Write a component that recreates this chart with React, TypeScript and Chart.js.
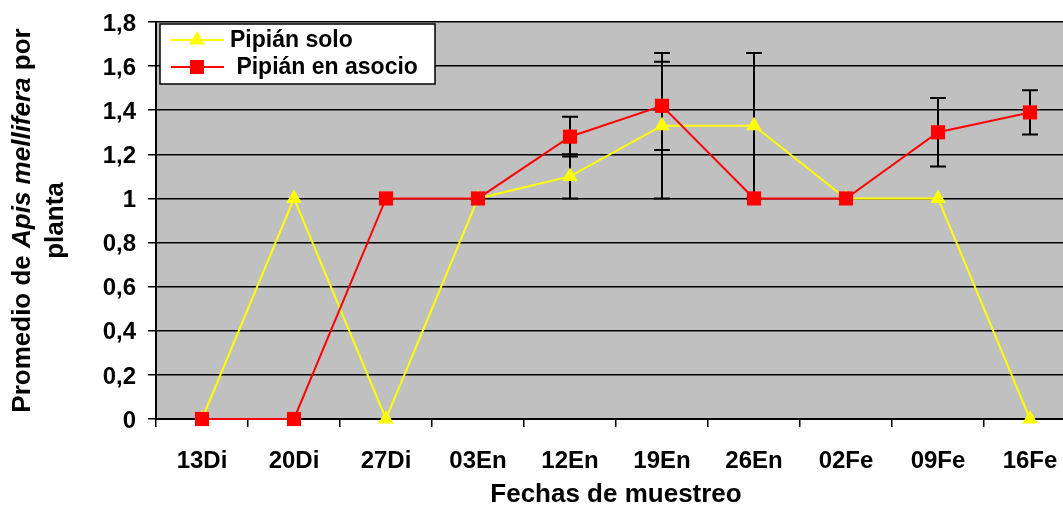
import React, { useEffect, useRef } from 'react';
import { Chart, registerables } from 'chart.js';

Chart.register(...registerables);

const categories = ['13Di', '20Di', '27Di', '03En', '12En', '19En', '26En', '02Fe', '09Fe', '16Fe'];
const seriesNames = ['Pipián solo', ' Pipián en asocio'];
const soloValues = [0, 1, 0, 1, 1.1, 1.33, 1.33, 1, 1, 0];
const asocioValues = [0, 0, 1, 1, 1.28, 1.42, 1, 1, 1.3, 1.39];
const soloErrors = [0, 0, 0, 0, 0.1, 0.33, 0.33, 0, 0, 0];
const asocioErrors = [0, 0, 0, 0, 0.09, 0.2, 0, 0, 0.155, 0.1];
const yMin = 0;
const yMax = 1.8;
const yStep = 0.2;
const xAxisTitle = 'Fechas de muestreo';
const yTitleLine1 = [
  { text: 'Promedio de ', italic: false },
  { text: 'Apis mellifera', italic: true },
  { text: ' por', italic: false },
];
const yTitleLine2 = 'planta';

const FONT = "'Liberation Sans', Arial, sans-serif";
const YELLOW = '#FFFF00';
const RED = '#FF0000';

const errorBarsPlugin = {
  id: 'errorBars',
  beforeDatasetsDraw(chart: any) {
    const ctx = chart.ctx;
    const xs = chart.scales.x;
    const ys = chart.scales.y;
    const sets = [
      { vals: soloValues, errs: soloErrors },
      { vals: asocioValues, errs: asocioErrors },
    ];
    ctx.save();
    ctx.strokeStyle = '#000';
    ctx.lineWidth = 2;
    sets.forEach(({ vals, errs }) => {
      vals.forEach((v, i) => {
        const e = errs[i];
        if (!e) return;
        const x = xs.getPixelForValue(i);
        const yt = ys.getPixelForValue(v + e);
        const yb = ys.getPixelForValue(v - e);
        ctx.beginPath();
        ctx.moveTo(x, yt);
        ctx.lineTo(x, yb);
        ctx.moveTo(x - 8, yt);
        ctx.lineTo(x + 8, yt);
        ctx.moveTo(x - 8, yb);
        ctx.lineTo(x + 8, yb);
        ctx.stroke();
      });
    });
    ctx.restore();
  },
};

const backgroundPlugin = {
  id: 'plotBg',
  beforeDraw(chart: any) {
    const { ctx, chartArea } = chart;
    ctx.save();
    ctx.fillStyle = '#C0C0C0';
    ctx.fillRect(chartArea.left, chartArea.top, chartArea.right - chartArea.left, chartArea.bottom - chartArea.top);
    ctx.restore();
  },
};

const annotationsPlugin = {
  id: 'annotations',
  afterDraw(chart: any) {
    const { ctx, chartArea } = chart;
    ctx.save();
    ctx.fillStyle = '#000';

    // X axis title
    ctx.font = `bold 26px ${FONT}`;
    ctx.textAlign = 'center';
    ctx.textBaseline = 'alphabetic';
    ctx.fillText(xAxisTitle, (chartArea.left + chartArea.right) / 2, 502);

    // Y axis title (rotated, mixed italic)
    const cy = (chartArea.top + chartArea.bottom) / 2;
    const fontFor = (it: boolean) => `${it ? 'italic ' : ''}bold 26px ${FONT}`;
    let total = 0;
    const widths = yTitleLine1.map((p) => {
      ctx.font = fontFor(p.italic);
      const w = ctx.measureText(p.text).width;
      total += w;
      return w;
    });
    ctx.save();
    ctx.translate(30, cy);
    ctx.rotate(-Math.PI / 2);
    ctx.textAlign = 'left';
    let xx = -total / 2;
    yTitleLine1.forEach((p, i) => {
      ctx.font = fontFor(p.italic);
      ctx.fillText(p.text, xx, 0);
      xx += widths[i];
    });
    ctx.restore();
    ctx.save();
    ctx.translate(63, cy);
    ctx.rotate(-Math.PI / 2);
    ctx.textAlign = 'center';
    ctx.font = fontFor(false);
    ctx.fillText(yTitleLine2, 0, 0);
    ctx.restore();

    // Legend
    const bx = 160, by = 24, bw = 275, bh = 60;
    ctx.fillStyle = '#FFFFFF';
    ctx.fillRect(bx, by, bw, bh);
    ctx.strokeStyle = '#000';
    ctx.lineWidth = 1.5;
    ctx.strokeRect(bx, by, bw, bh);
    const rows = [
      { y: 40, color: YELLOW, shape: 'tri', label: seriesNames[0] },
      { y: 67, color: RED, shape: 'sq', label: seriesNames[1] },
    ];
    rows.forEach((r) => {
      ctx.strokeStyle = r.color;
      ctx.lineWidth = 2;
      ctx.beginPath();
      ctx.moveTo(171, r.y);
      ctx.lineTo(224, r.y);
      ctx.stroke();
      ctx.fillStyle = r.color;
      const mx = 197;
      if (r.shape === 'tri') {
        const rad = 9;
        ctx.beginPath();
        ctx.moveTo(mx, r.y - rad);
        ctx.lineTo(mx + 0.866 * rad, r.y + 0.5 * rad);
        ctx.lineTo(mx - 0.866 * rad, r.y + 0.5 * rad);
        ctx.closePath();
        ctx.fill();
      } else {
        ctx.fillRect(mx - 7, r.y - 7, 14, 14);
      }
      ctx.fillStyle = '#000';
      ctx.font = `bold 23px ${FONT}`;
      ctx.textAlign = 'left';
      ctx.textBaseline = 'middle';
      ctx.fillText(r.label, 230, r.y + 1);
    });
    ctx.restore();
  },
};

export default function App() {
  const ref = useRef<HTMLCanvasElement | null>(null);

  useEffect(() => {
    if (!ref.current) return;
    const chart = new Chart(ref.current, {
      type: 'line',
      data: {
        labels: categories,
        datasets: [
          {
            label: seriesNames[0],
            data: soloValues,
            borderColor: YELLOW,
            backgroundColor: YELLOW,
            borderWidth: 2,
            pointStyle: 'triangle',
            pointRadius: 9,
            pointBorderWidth: 0,
            pointBackgroundColor: YELLOW,
            tension: 0,
            clip: false,
            order: 1,
          },
          {
            label: seriesNames[1],
            data: asocioValues,
            borderColor: RED,
            backgroundColor: RED,
            borderWidth: 2,
            pointStyle: 'rect',
            pointRadius: 10,
            pointBorderWidth: 0,
            pointBackgroundColor: RED,
            tension: 0,
            clip: false,
            order: 0,
          },
        ],
      },
      options: {
        animation: false,
        responsive: false,
        maintainAspectRatio: false,
        layout: { padding: { left: 0, top: 22, right: 14, bottom: 0 } },
        plugins: {
          legend: { display: false },
          tooltip: { enabled: false },
        },
        scales: {
          x: {
            offset: true,
            afterFit: (s: any) => {
              s.height = 87;
              s.paddingLeft = 0;
              s.paddingRight = 0;
            },
            grid: {
              offset: true,
              drawOnChartArea: false,
              drawTicks: true,
              tickLength: 8,
              color: '#000',
              lineWidth: 1.5,
            },
            border: { display: true, color: '#000', width: 2 },
            ticks: {
              color: '#000',
              padding: 20,
              maxRotation: 0,
              autoSkip: false,
              font: { family: FONT, size: 24, weight: 'bold' },
            },
          },
          y: {
            min: yMin,
            max: yMax,
            afterFit: (s: any) => {
              s.width = 156;
              s.paddingTop = 0;
              s.paddingBottom = 0;
            },
            grid: {
              color: '#000',
              lineWidth: 1.5,
              drawTicks: true,
              tickLength: 8,
            },
            border: { display: true, color: '#000', width: 2 },
            ticks: {
              stepSize: yStep,
              color: '#000',
              padding: 12,
              labelOffset: 2,
              font: { family: FONT, size: 24, weight: 'bold' },
              callback: (v: any) => String(Number(Number(v).toFixed(1))).replace('.', ','),
            },
          },
        },
      },
      plugins: [backgroundPlugin, errorBarsPlugin, annotationsPlugin],
    } as any);
    return () => chart.destroy();
  }, []);

  return (
    <div style={{ position: 'fixed', left: 0, top: 0, width: 1063, height: 506, overflow: 'hidden', background: '#fff' }}>
      <canvas ref={ref} width={1090} height={506} style={{ width: 1090, height: 506, display: 'block' }} />
    </div>
  );
}
